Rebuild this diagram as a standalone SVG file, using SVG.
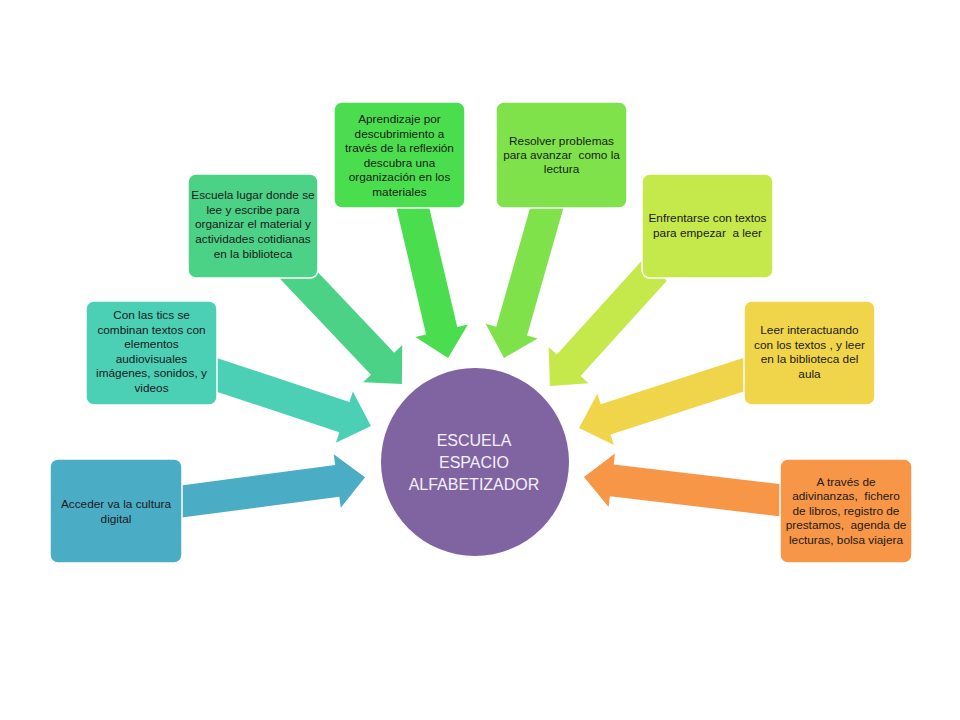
<svg xmlns="http://www.w3.org/2000/svg" width="960" height="720" viewBox="0 0 960 720">
<style>
.box{stroke:#ffffff;stroke-width:1.5}
.t{font-family:"Liberation Sans",Arial,sans-serif;font-size:11.8px;fill:#1a1a1a;text-anchor:middle;white-space:pre}
.c{font-family:"Liberation Sans",Arial,sans-serif;font-size:16px;fill:#f4f0fa;text-anchor:middle}
</style>
<rect width="960" height="720" fill="#ffffff"/>
<g id="connectors">
<polygon fill="#4bacc6" transform="translate(170,503) rotate(-7.5)" points="0,-16 168.7,-16 168.7,-27 196.7,0 168.7,27 168.7,16 0,16"/>
<polygon fill="#4bcfb5" transform="translate(205,371) rotate(18.3)" points="0,-16 146.8,-16 146.8,-27 174.8,0 146.8,27 146.8,16 0,16"/>
<polygon fill="#4cd287" transform="translate(289,265) rotate(46.5)" points="0,-16 136,-16 136,-27 164,0 136,27 136,16 0,16"/>
<polygon fill="#4ade4e" transform="translate(411,200) rotate(76.8)" points="0,-16 134.3,-16 134.3,-27 162.3,0 134.3,27 134.3,16 0,16"/>
<polygon fill="#7fe24a" transform="translate(549,200) rotate(105.9)" points="0,-16 136.3,-16 136.3,-27 164.3,0 136.3,27 136.3,16 0,16"/>
<polygon fill="#c5e84b" transform="translate(655,270) rotate(132.2)" points="0,-16 128.5,-16 128.5,-27 156.5,0 128.5,27 128.5,16 0,16"/>
<polygon fill="#f0d54a" transform="translate(755,371) rotate(162.05)" points="0,-16 157,-16 157,-27 185,0 157,27 157,16 0,16"/>
<polygon fill="#f79646" transform="translate(795,502) rotate(186.76)" points="0,-16 184.5,-16 184.5,-27 212.5,0 184.5,27 184.5,16 0,16"/>
</g>
<g id="node-center">
<circle cx="475" cy="462" r="94" fill="#8064a2"/>
<text class="c" x="474" y="446">ESCUELA</text>
<text class="c" x="474" y="468">ESPACIO</text>
<text class="c" x="474" y="490">ALFABETIZADOR</text>
</g>
<g id="node-1">
<rect class="box" x="50" y="459" width="132" height="104" rx="8" fill="#4bacc6"/>
<text class="t" x="116" y="508">Acceder va la cultura</text>
<text class="t" x="116" y="523">digital</text>
</g>
<g id="node-2">
<rect class="box" x="86" y="301" width="131" height="104" rx="8" fill="#4bcfb5"/>
<text class="t" x="151.5" y="319">Con las tics se</text>
<text class="t" x="151.5" y="333.6">combinan textos con</text>
<text class="t" x="151.5" y="348.2">elementos</text>
<text class="t" x="151.5" y="362.8">audiovisuales</text>
<text class="t" x="151.5" y="377.4">imágenes, sonidos, y</text>
<text class="t" x="151.5" y="392">videos</text>
</g>
<g id="node-3">
<rect class="box" x="188" y="174" width="130" height="104" rx="8" fill="#4cd287"/>
<text class="t" x="253" y="199">Escuela lugar donde se</text>
<text class="t" x="253" y="213.7">lee y escribe para</text>
<text class="t" x="253" y="228.4">organizar el material y</text>
<text class="t" x="253" y="243.1">actividades cotidianas</text>
<text class="t" x="253" y="257.8">en la biblioteca</text>
</g>
<g id="node-4">
<rect class="box" x="334" y="102" width="131" height="106" rx="8" fill="#4ade4e"/>
<text class="t" x="399.5" y="123">Aprendizaje por</text>
<text class="t" x="399.5" y="137.5">descubrimiento a</text>
<text class="t" x="399.5" y="152">través de la reflexión</text>
<text class="t" x="399.5" y="166.5">descubra una</text>
<text class="t" x="399.5" y="181">organización en los</text>
<text class="t" x="399.5" y="195.5">materiales</text>
</g>
<g id="node-5">
<rect class="box" x="496" y="102" width="131" height="106" rx="8" fill="#7fe24a"/>
<text class="t" x="561.5" y="145">Resolver problemas</text>
<text class="t" x="561.5" y="159">para avanzar  como la</text>
<text class="t" x="561.5" y="173">lectura</text>
</g>
<g id="node-6">
<rect class="box" x="642" y="174" width="131" height="104" rx="8" fill="#c5e84b"/>
<text class="t" x="707.5" y="222">Enfrentarse con textos</text>
<text class="t" x="707.5" y="236.5">para empezar  a leer</text>
</g>
<g id="node-7">
<rect class="box" x="744" y="301" width="131" height="104" rx="8" fill="#f0d54a"/>
<text class="t" x="809.5" y="334">Leer interactuando</text>
<text class="t" x="809.5" y="348.6">con los textos , y leer</text>
<text class="t" x="809.5" y="363.2">en la biblioteca del</text>
<text class="t" x="809.5" y="377.8">aula</text>
</g>
<g id="node-8">
<rect class="box" x="780" y="459" width="132" height="104" rx="8" fill="#f79646"/>
<text class="t" x="846" y="485.5">A través de</text>
<text class="t" x="846" y="500">adivinanzas,  fichero</text>
<text class="t" x="846" y="514.5">de libros, registro de</text>
<text class="t" x="846" y="529">prestamos,  agenda de</text>
<text class="t" x="846" y="543.5">lecturas, bolsa viajera</text>
</g>
</svg>
